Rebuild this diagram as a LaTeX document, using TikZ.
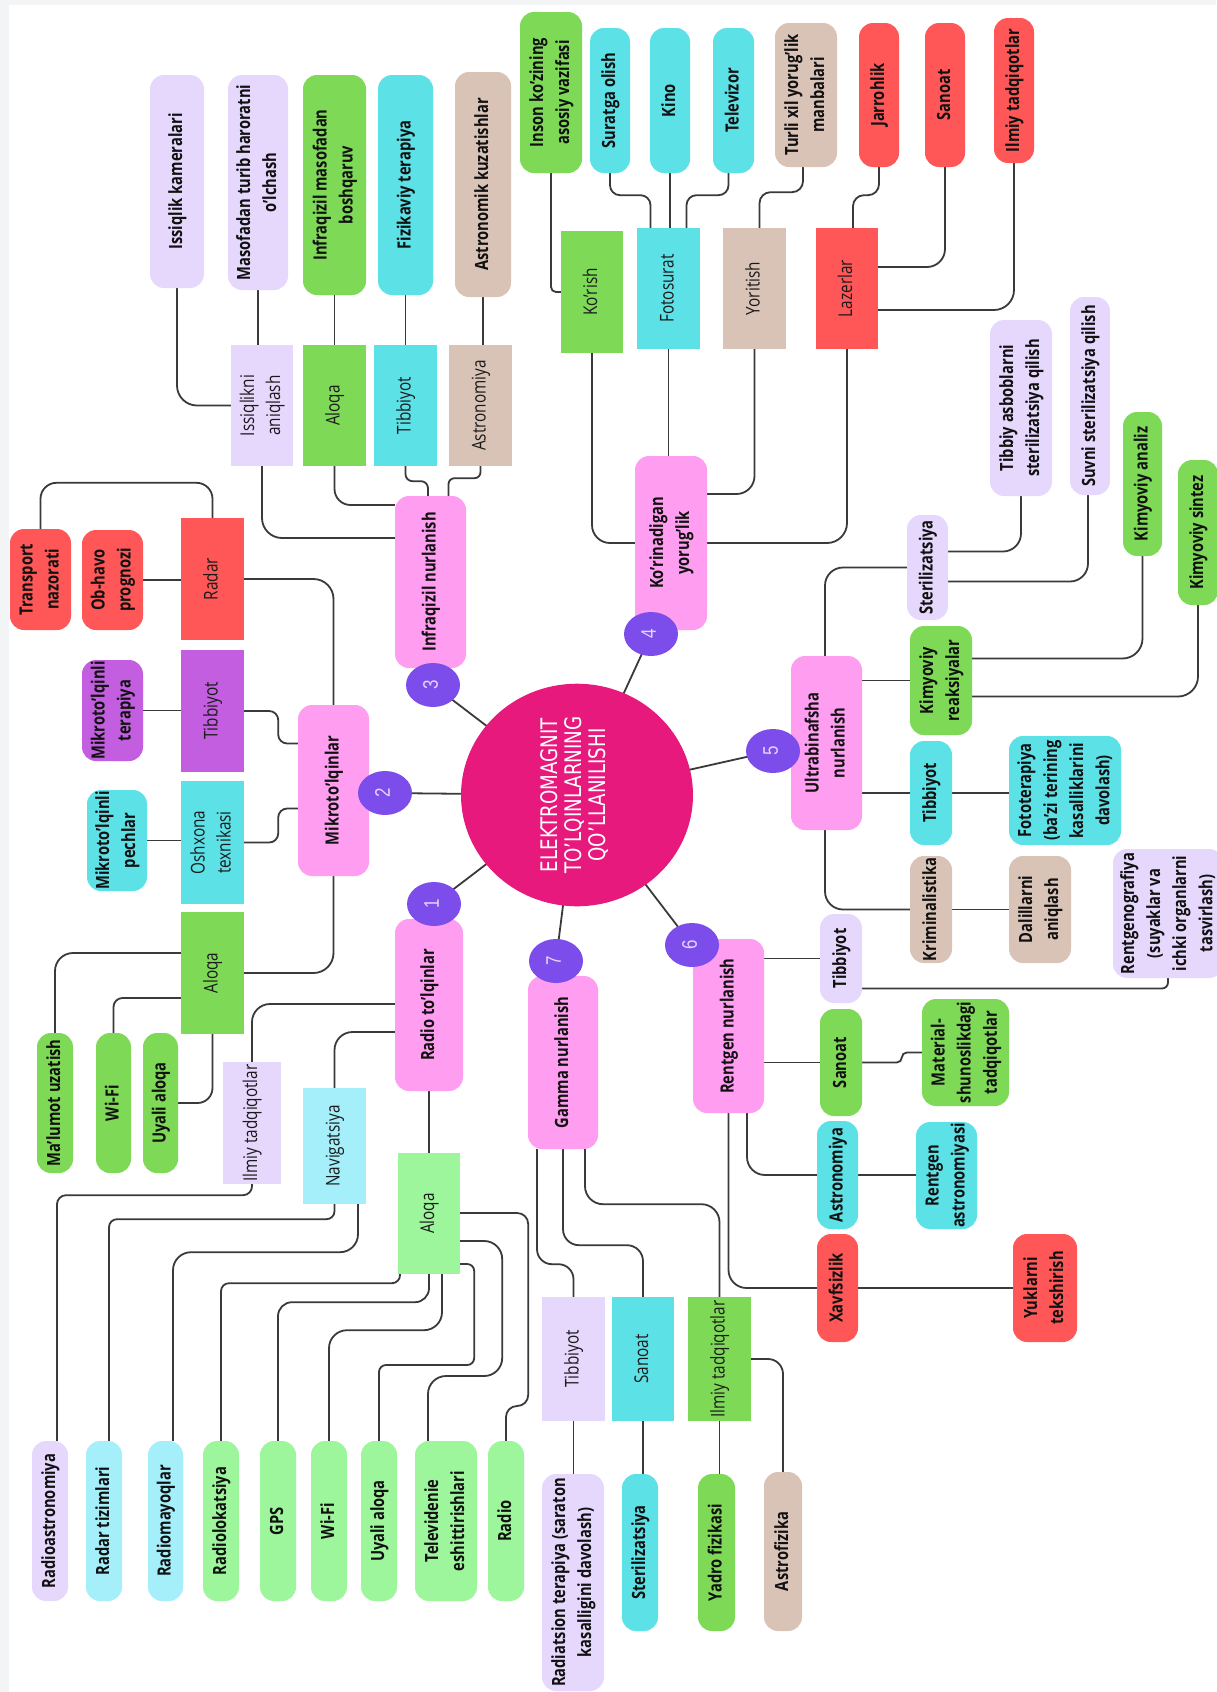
\documentclass[tikz,border=0pt]{standalone}
\usepackage{fontspec}
\usepackage{graphicx}
\setmainfont{Open Sans}
\newfontfamily\ctrfont{DejaVu Sans}
\newfontfamily\numfont{Liberation Sans}
\usetikzlibrary{shapes.geometric}
\pgfdeclarelayer{bg}
\pgfsetlayers{bg,main}
\definecolor{pinkM}{HTML}{FF9DF0}
\definecolor{circ}{HTML}{7C4DEA}
\definecolor{ctr}{HTML}{E8197D}
\definecolor{lav}{HTML}{E6D8FC}
\definecolor{grn}{HTML}{7ED957}
\definecolor{lgrn}{HTML}{9DF69B}
\definecolor{cyn}{HTML}{5CE1E6}
\definecolor{lcyn}{HTML}{A4EFFA}
\definecolor{tan}{HTML}{D9C3B7}
\definecolor{redn}{HTML}{FF5757}
\definecolor{pur}{HTML}{C35EE0}
\definecolor{linec}{HTML}{3A3A3A}
\definecolor{txt}{HTML}{111111}
\definecolor{txtb}{HTML}{1A1A1A}
\definecolor{numc}{HTML}{E3D5FF}
\definecolor{bgg}{HTML}{F3F4F6}
\newcommand\XS{1.24}
\newcommand\lbl{\fontsize{14.7}{21}\selectfont}
\newcommand\lblr{\fontsize{15.3}{21}\selectfont}
\newcommand\rt[1]{\rotatebox{90}{\scalebox{1}[\XS]{\begin{tabular}{@{}c@{}}#1\end{tabular}}}}
\begin{document}
\begin{tikzpicture}[x=1pt,y=-1pt,
 rb/.style={rectangle, rounded corners=14pt, inner sep=0pt, font=\bfseries\lbl, text=txt},
 sb/.style={rectangle, inner sep=0pt, font=\lblr, text=txtb},
 wh/.style 2 args={minimum width=#1pt, minimum height=#2pt},
 num/.style={ellipse, fill=circ, minimum width=54pt, minimum height=44pt, inner sep=0pt, text=numc, font=\numfont\fontsize{17}{20}\selectfont},
 conn/.style={draw=linec, line width=1.8pt, rounded corners=18pt}]
\useasboundingbox (0,0) rectangle (1216,1692);

% centre
\node[ellipse, fill=ctr, minimum width=232pt, minimum height=196pt, inner sep=0pt, text=white] (c) at (577,795)
 {\rotatebox{90}{\scalebox{0.96}[1.2]{\ctrfont\fontsize{19}{20}\selectfont\begin{tabular}{@{}c@{}}ELEKTROMAGNIT\\TO’LQINLARNING\\QO’LLANILISHI\end{tabular}}}};

% main branches
\node[rb, fill=pinkM, wh={68}{172}] (radio) at (429,1005) {\rt{Radio to'lqinlar}};
\node[rb, fill=pinkM, wh={71}{171}] (micro) at (333.5,790.5) {\rt{Mikroto'lqinlar}};
\node[rb, fill=pinkM, wh={71}{172}] (ir) at (430.5,582) {\rt{Infraqizil nurlanish}};
\node[rb, fill=pinkM, wh={72}{174}] (vis) at (671,543) {\rt{Ko'rinadigan\\yorug'lik}};
\node[rb, fill=pinkM, wh={71}{174}] (uv) at (826.5,743) {\rt{Ultrabinafsha\\nurlanish}};
\node[rb, fill=pinkM, wh={71}{174}] (xray) at (728.5,1026) {\rt{Rentgen nurlanish}};
\node[rb, fill=pinkM, wh={70}{173}] (gamma) at (563,1062.5) {\rt{Gamma nurlanish}};

\node[num] (n1) at (434,904) {\rt{1}};
\node[num] (n2) at (385,793) {\rt{2}};
\node[num] (n3) at (433,685) {\rt{3}};
\node[num] (n4) at (651,634) {\rt{4}};
\node[num] (n5) at (773,751) {\rt{5}};
\node[num] (n6) at (692,945) {\rt{6}};
\node[num] (n7) at (556,961) {\rt{7}};

% infrared
\node[sb, fill=lav, wh={62}{121}] (irHeat) at (262,405.5) {\rt{Issiqlikni\\aniqlash}};
\node[sb, fill=grn, wh={63}{121}] (irCom) at (334.5,405.5) {\rt{Aloqa}};
\node[sb, fill=cyn, wh={63}{121}] (irMed) at (405.5,405.5) {\rt{Tibbiyot}};
\node[sb, fill=tan, wh={63}{121}] (irAst) at (480.5,405.5) {\rt{Astronomiya}};
\node[rb, fill=lav, wh={54}{213}] (irCam) at (177,181.5) {\rt{Issiqlik kameralari}};
\node[rb, fill=lav, wh={60}{215}] (irTemp) at (258,182.5) {\rt{Masofadan turib haroratni\\o'lchash}};
\node[rb, fill=grn, wh={63}{220}] (irRc) at (334.5,185) {\rt{Infraqizil masofadan\\boshqaruv}};
\node[rb, fill=cyn, wh={55}{220}] (irPhys) at (405.5,185) {\rt{Fizikaviy terapiya}};
\node[rb, fill=tan, wh={56}{225}] (irObs) at (483,184.5) {\rt{Astronomik kuzatishlar}};

% visible
\node[sb, fill=grn, wh={62}{122}] (vSee) at (592,292) {\rt{Ko'rish}};
\node[sb, fill=cyn, wh={63}{121}] (vPhoto) at (668.5,288.5) {\rt{Fotosurat}};
\node[sb, fill=tan, wh={63}{121}] (vLight) at (754.5,288.5) {\rt{Yoritish}};
\node[sb, fill=redn, wh={62}{121}] (vLaser) at (847,288.5) {\rt{Lazerlar}};
\node[rb, fill=grn, wh={62}{161}] (vEye) at (551,92.5) {\rt{Inson ko'zining\\asosiy vazifasi}};
\node[rb, fill=cyn, wh={40}{145}] (vShot) at (610,100.5) {\rt{Suratga olish}};
\node[rb, fill=cyn, wh={40}{145}] (vKino) at (670,100.5) {\rt{Kino}};
\node[rb, fill=cyn, wh={41}{145}] (vTv) at (733.5,100.5) {\rt{Televizor}};
\node[rb, fill=tan, wh={62}{144}] (vSrc) at (806,95) {\rt{Turli xil yorug'lik\\manbalari}};
\node[rb, fill=redn, wh={40}{144}] (vSurg) at (879,95) {\rt{Jarrohlik}};
\node[rb, fill=redn, wh={40}{144}] (vInd) at (945,95) {\rt{Sanoat}};
\node[rb, fill=redn, wh={40}{145}] (vSci) at (1014,90.5) {\rt{Ilmiy tadqiqotlar}};

% ultraviolet
\node[rb, fill=lav, wh={41}{105}] (uSter) at (927.5,567.5) {\rt{Sterilizatsiya}};
\node[rb, fill=grn, wh={62}{109}] (uChem) at (941,680.5) {\rt{Kimyoviy\\reaksiyalar}};
\node[rb, fill=cyn, wh={42}{104}] (uMed) at (931,793) {\rt{Tibbiyot}};
\node[rb, fill=tan, wh={42}{107}] (uCrim) at (931,909.5) {\rt{Kriminalistika}};
\node[rb, fill=lav, wh={62}{176}] (uTool) at (1021,408) {\rt{Tibbiy asboblarni\\sterilizatsiya qilish}};
\node[rb, fill=lav, wh={40}{198}] (uWater) at (1090,396) {\rt{Suvni sterilizatsiya qilish}};
\node[rb, fill=grn, wh={39}{144}] (uAnal) at (1142.5,484) {\rt{Kimyoviy analiz}};
\node[rb, fill=grn, wh={40}{145}] (uSynth) at (1198,532.5) {\rt{Kimyoviy sintez}};
\node[rb, fill=cyn, wh={112}{109}] (uPhoto) at (1065,790.5) {\rt{Fototerapiya\\(ba'zi terining\\kasalliklarini\\davolash)}};
\node[rb, fill=tan, wh={62}{107}] (uEvid) at (1040,909.5) {\rt{Dalillarni\\aniqlash}};

% x-ray
\node[rb, fill=lav, wh={42}{89}] (xMed) at (841,958.5) {\rt{Tibbiyot}};
\node[rb, fill=grn, wh={42}{107}] (xInd) at (841,1062.5) {\rt{Sanoat}};
\node[rb, fill=cyn, wh={41}{108}] (xAst) at (837.5,1175) {\rt{Astronomiya}};
\node[rb, fill=redn, wh={41}{108}] (xSec) at (837.5,1288) {\rt{Xavfsizlik}};
\node[rb, fill=lav, wh={110}{129}] (xRadio) at (1168,913.5) {\rt{Rentgenografiya\\(suyaklar va\\ichki organlarni\\tasvirlash)}};
\node[rb, fill=grn, wh={87}{107}] (xMat) at (965.5,1052.5) {\rt{Material-\\shunoslikdagi\\tadqiqotlar}};
\node[rb, fill=cyn, wh={61}{107}] (xRast) at (946.5,1175.5) {\rt{Rentgen\\astronomiyasi}};
\node[rb, fill=redn, wh={64}{108}] (xCargo) at (1045,1288) {\rt{Yuklarni\\tekshirish}};

% gamma
\node[sb, fill=lav, wh={63}{124}] (gMed) at (573.5,1359) {\rt{Tibbiyot}};
\node[sb, fill=cyn, wh={62}{124}] (gInd) at (643,1359) {\rt{Sanoat}};
\node[sb, fill=grn, wh={63}{124}] (gSci) at (719.5,1359) {\rt{Ilmiy tadqiqotlar}};
\node[rb, fill=lav, wh={62}{217}] (gRad) at (573,1582.5) {\rt{Radiatsion terapiya (saraton\\kasalligini davolash)}};
\node[rb, fill=cyn, wh={36}{157}] (gSter) at (640,1552.5) {\rt{Sterilizatsiya}};
\node[rb, fill=grn, wh={37}{157}] (gNuc) at (716.5,1552.5) {\rt{Yadro fizikasi}};
\node[rb, fill=tan, wh={38}{159}] (gAstro) at (783,1551.5) {\rt{Astrofizika}};

% microwaves
\node[sb, fill=redn, wh={63}{122}] (mRadar) at (212.5,579) {\rt{Radar}};
\node[sb, fill=pur, wh={63}{122}] (mMed) at (212.5,711) {\rt{Tibbiyot}};
\node[sb, fill=cyn, wh={63}{123}] (mKit) at (212.5,842.5) {\rt{Oshxona\\texnikasi}};
\node[sb, fill=grn, wh={63}{122}] (mCom) at (212.5,973) {\rt{Aloqa}};
\node[rb, fill=redn, wh={61}{101}] (mTraf) at (40.5,579.5) {\rt{Transport\\nazorati}};
\node[rb, fill=redn, wh={61}{100}] (mWea) at (112.5,580) {\rt{Ob-havo\\prognozi}};
\node[rb, fill=pur, wh={61}{101}] (mTher) at (112.5,710.5) {\rt{Mikroto'lqinli\\terapiya}};
\node[rb, fill=cyn, wh={60}{101}] (mOven) at (117,840.5) {\rt{Mikroto'lqinli\\pechlar}};
\node[rb, fill=grn, wh={36}{140}] (mData) at (55,1103) {\rt{Ma'lumot uzatish}};
\node[rb, fill=grn, wh={35}{140}] (mWifi) at (113.5,1103) {\rt{Wi-Fi}};
\node[rb, fill=grn, wh={35}{140}] (mCell) at (160.5,1103) {\rt{Uyali aloqa}};

% radio
\node[sb, fill=lav, wh={58}{122}] (rSci) at (252,1123) {\rt{Ilmiy tadqiqotlar}};
\node[sb, fill=lcyn, wh={63}{116}] (rNav) at (334.5,1146) {\rt{Navigatsiya}};
\node[sb, fill=lgrn, wh={62}{121}] (rCom) at (429,1213.5) {\rt{Aloqa}};
\node[rb, fill=lav, wh={36}{160}] (rRast) at (50,1521) {\rt{Radioastronomiya}};
\node[rb, fill=lcyn, wh={36}{160}] (rRsys) at (104,1521) {\rt{Radar tizimlari}};
\node[rb, fill=lcyn, wh={35}{160}] (rBeac) at (165.5,1521) {\rt{Radiomayoqlar}};
\node[rb, fill=lgrn, wh={36}{160}] (rLoc) at (221,1521) {\rt{Radiolokatsiya}};
\node[rb, fill=lgrn, wh={36}{160}] (rGps) at (278,1521) {\rt{GPS}};
\node[rb, fill=lgrn, wh={36}{160}] (rWifi) at (329,1521) {\rt{Wi-Fi}};
\node[rb, fill=lgrn, wh={36}{160}] (rCell) at (379,1521) {\rt{Uyali aloqa}};
\node[rb, fill=lgrn, wh={62}{160}] (rTv) at (446,1521) {\rt{Televidenie\\eshittirishlari}};
\node[rb, fill=lgrn, wh={36}{160}] (rRadio) at (506,1521) {\rt{Radio}};

\begin{pgfonlayer}{bg}
\fill[white] (0,0) rectangle (1216,1692);
\fill[bgg] (0,0) rectangle (1216,5);
\fill[bgg] (0,0) rectangle (9,1692);
\foreach \k in {1,...,7} {\draw[draw=linec, line width=1.8pt] (c.center) -- (n\k.center);}
% infrared
\draw[conn,rounded corners=20pt] (irCam.south) |- (irHeat.west);
\draw[conn] (irTemp.south) -- (irTemp.south |- irHeat.north);
\draw[conn] (irRc.south) -- (irRc.south |- irCom.north);
\draw[conn] (irPhys.south) -- (irPhys.south |- irMed.north);
\draw[conn] (irObs.south) -- (irObs.south |- irAst.north);
\draw[conn,rounded corners=20pt] (irHeat.south) |- ([yshift=44pt]ir.west);
\draw[conn,rounded corners=16pt] (irCom.south) |- ([yshift=77pt]ir.west);
\draw[conn,rounded corners=7pt] (irMed.south) -- ++(0,15) -| ([xshift=-2.5pt]ir.north);
\draw[conn,rounded corners=6pt] (irAst.south) -- ++(0,12) -| ([xshift=18pt]ir.north);
% visible
\draw[conn,rounded corners=5pt] (vEye.south) |- (vSee.west);
\draw[conn,rounded corners=10pt] (vShot.south) -- ++(0,22) -| ([xshift=-18pt]vPhoto.north);
\draw[conn] (vKino.south) -- (vKino.south |- vPhoto.north);
\draw[conn,rounded corners=10pt] ([xshift=-5pt]vTv.south) -- ++(0,22) -| ([xshift=18pt]vPhoto.north);
\draw[conn,rounded corners=11pt] ([xshift=-3pt]vSrc.south) -- ++(0,25) -| ([xshift=5pt]vLight.north);
\draw[conn,rounded corners=11pt] (vSurg.south) -- ++(0,28) -| ([xshift=6pt]vLaser.north);
\draw[conn] (vInd.south) |- ([yshift=21.5pt]vLaser.east);
\draw[conn,rounded corners=20pt] (vSci.south) |- ([yshift=-21.5pt]vLaser.east);
\draw[conn] (vSee.south) |- (vis.west);
\draw[conn] (vPhoto.south) -- (vPhoto.south |- vis.north);
\draw[conn] (vLight.south) |- ([yshift=49pt]vis.east);
\draw[conn,rounded corners=20pt] (vLaser.south) |- (vis.east);
% ultraviolet
\draw[conn] ([xshift=-1.5pt]uv.north) |- (uSter.west);
\draw[conn] (uv.east |- uChem.west) -- (uChem.west);
\draw[conn] (uv.east |- uMed.west) -- (uMed.west);
\draw[conn] (uMed.east) -- (uPhoto.west |- uMed.east);
\draw[conn] ([xshift=-1.5pt]uv.south) |- (uCrim.west);
\draw[conn] (uCrim.east) -- (uEvid.west |- uCrim.east);
\draw[conn] ([yshift=16pt]uSter.east) -| (uTool.south);
\draw[conn] ([yshift=-14pt]uSter.east) -| ([xshift=-2pt]uWater.south);
\draw[conn,rounded corners=20pt] ([yshift=22pt]uChem.east) -| (uAnal.south);
\draw[conn,rounded corners=20pt] ([yshift=-16pt]uChem.east) -| (uSynth.south);
% x-ray
\draw[conn] (xray.east |- xMed.west) -- (xMed.west);
\draw[conn,rounded corners=6pt] ([yshift=-30pt]xMed.east) -| (xRadio.south);
\draw[conn] (xray.east |- xInd.west) -- (xInd.west);
\draw[conn,rounded corners=5pt] (xInd.east) -| ([xshift=-20pt]xMat.west) -- (xMat.west);
\draw[conn] ([xshift=18.5pt]xray.south) |- (xAst.west);
\draw[conn] (xray.south) |- (xSec.west);
\draw[conn] (xAst.east) -- (xRast.west |- xAst.east);
\draw[conn] (xSec.east) -- (xCargo.west |- xSec.east);
% gamma
\draw[conn,rounded corners=15pt] ([xshift=-26pt]gamma.south) -- ++(0,115) -| (gMed.north);
\draw[conn,rounded corners=16pt] (gamma.south) -- ++(0,96) -| (gInd.north);
\draw[conn,rounded corners=18pt] ([xshift=22pt]gamma.south) -- ++(0,55) -| (gSci.north);
\draw[conn] (gMed.south) -- (gMed.south |- gRad.north);
\draw[conn] (gInd.south) -- (gInd.south |- gSter.north);
\draw[conn] (gSci.south) -- (gSci.south |- gNuc.north);
\draw[conn,rounded corners=15pt] (gSci.east) -| (gAstro.north);
% microwaves
\draw[conn,rounded corners=16pt] (mRadar.north) -- ++(0,-35) -| (mTraf.north);
\draw[conn] (mWea.east) -- (mRadar.west |- mWea.east);
\draw[conn,rounded corners=20pt] (mRadar.east) -| (micro.north);
\draw[conn] (mTher.east) -- (mMed.west |- mTher.east);
\draw[conn,rounded corners=9pt] (mMed.east) -- ++(34,0) |- ([yshift=47pt]micro.west);
\draw[conn,rounded corners=9pt] (mKit.east) -- ++(34,0) |- ([yshift=-18pt]micro.west);
\draw[conn] (mOven.east) -- (mKit.west |- mOven.east);
\draw[conn,rounded corners=20pt] (micro.south) |- (mCom.east);
\draw[conn] ([yshift=20pt]mCom.west) -| (mData.north);
\draw[conn,rounded corners=9pt] ([yshift=-25pt]mCom.west) -| (mWifi.north);
\draw[conn,rounded corners=15pt] (mCom.south) |- (mCell.east);
% radio
\draw[conn] ([yshift=1pt]radio.west) -| (rSci.north);
\draw[conn] ([yshift=-27pt]radio.west) -| (rNav.north);
\draw[conn] (radio.south) -- (radio.south |- rCom.north);
\draw[conn,rounded corners=9pt] (rSci.south) -- ++(0,11) -| ([xshift=7pt]rRast.north);
\draw[conn,rounded corners=8pt] (rNav.south) -- ++(0,15) -| ([xshift=5pt]rRsys.north);
\draw[conn] ([xshift=23.5pt]rNav.south) -- ++(0,48) -| ([xshift=7.5pt]rBeac.north);
\draw[conn,rounded corners=8pt] ([xshift=-29pt]rCom.south) -- ++(0,9) -| (rLoc.north);
\draw[conn,rounded corners=14pt] (rCom.south) -- ++(0,28) -| (rGps.north);
\draw[conn] ([xshift=13pt]rCom.south) -- ++(0,56) -| (rWifi.north);
\draw[conn,rounded corners=7pt] ([yshift=-50.5pt]rCom.east) -- ++(14,0) -- ++(0,101) -| (rCell.north);
\draw[conn] ([yshift=-27.5pt]rCom.east) -- ++(42,0) -- ++(0,135) -| ([xshift=-18pt]rTv.north);
\draw[conn,rounded corners=11pt] ([yshift=0.5pt]rCom.east) -- ++(68,0) -- ++(0,193) -| (rRadio.north);
\end{pgfonlayer}
\end{tikzpicture}
\end{document}
